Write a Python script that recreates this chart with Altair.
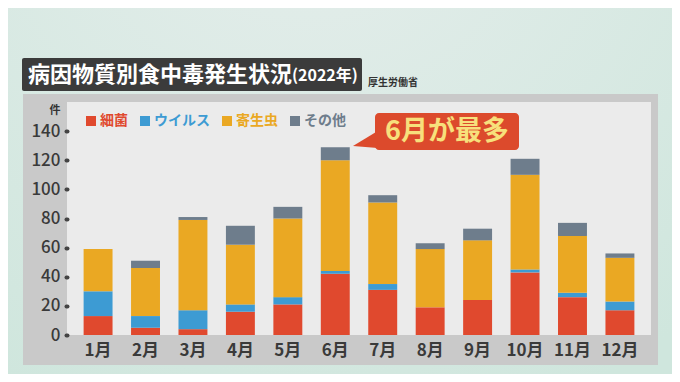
import altair as alt
import pandas as pd

months = ["1月", "2月", "3月", "4月", "5月", "6月", "7月", "8月", "9月", "10月", "11月", "12月"]
series = ["細菌", "ウイルス", "寄生虫", "その他"]
colors = ["#e0492e", "#3d9bd3", "#eaa823", "#6e7d8c"]
bacteria = [13, 5, 4, 16, 21, 42, 31, 19, 24, 43, 26, 17]
virus = [17, 8, 13, 5, 5, 2, 4, 0, 0, 2, 3, 6]
parasite = [29, 33, 62, 41, 54, 76, 56, 40, 41, 65, 39, 30]
other = [0, 5, 2, 13, 8, 9, 5, 4, 8, 11, 9, 3]
y_ticks = [0, 20, 40, 60, 80, 100, 120, 140]

FONT = "Noto Sans CJK JP"

rows = []
for si, (name, vals) in enumerate(zip(series, [bacteria, virus, parasite, other])):
    for m, v in zip(months, vals):
        rows.append({"month": m, "series": name, "value": v, "order": si})
df = pd.DataFrame(rows)

one = alt.Data(values=[{}])

bg = alt.Chart(one).mark_rect(
    fill=alt.RadialGradient(
        gradient="radial",
        x1=0.45, y1=0.0, r1=0.0, x2=0.45, y2=0.0, r2=0.9,
        stops=[alt.GradientStop(color="#e6eeec", offset=0),
               alt.GradientStop(color="#cfe6dd", offset=1)],
    )
).encode(x=alt.value(-59), x2=alt.value(605), y=alt.value(-94), y2=alt.value(272))

frame = alt.Chart(one).mark_rect(color="#c9c9c9").encode(
    x=alt.value(-44), x2=alt.value(591), y=alt.value(-8), y2=alt.value(263))
inner = alt.Chart(one).mark_rect(color="#ebebeb").encode(
    x=alt.value(0), x2=alt.value(584), y=alt.value(0), y2=alt.value(233))

title_box = alt.Chart(one).mark_rect(color="#3b3b3b", cornerRadius=2).encode(
    x=alt.value(-45), x2=alt.value(295), y=alt.value(-44), y2=alt.value(-11))
title1 = alt.Chart(one).mark_text(
    text="病因物質別食中毒発生状況", font=FONT, fontSize=22, fontWeight="bold",
    color="white", align="left", baseline="middle"
).encode(x=alt.value(-39), y=alt.value(-27))
title2 = alt.Chart(one).mark_text(
    text="(2022年)", font=FONT, fontSize=16, fontWeight="bold",
    color="white", align="left", baseline="middle"
).encode(x=alt.value(225), y=alt.value(-26))
source = alt.Chart(one).mark_text(
    text="厚生労働省", font=FONT, fontSize=10, fontWeight="bold",
    color="#333333", align="left", baseline="middle"
).encode(x=alt.value(301), y=alt.value(-19))
unit = alt.Chart(one).mark_text(
    text="件", font=FONT, fontSize=11, fontWeight="bold",
    color="#333333", align="center", baseline="middle"
).encode(x=alt.value(-12), y=alt.value(9))

bars = alt.Chart(df).mark_bar().encode(
    x=alt.X("month:N", sort=months, title=None,
            scale=alt.Scale(paddingInner=0.39, paddingOuter=0.35),
            axis=alt.Axis(labelAngle=0, labelFont=FONT, labelFontSize=17,
                          labelFontWeight="bold", labelColor="#3a3a3a",
                          ticks=False, domain=False, labelPadding=7, zindex=2)),
    y=alt.Y("sum(value):Q", title=None,
            scale=alt.Scale(domain=[0, 160], nice=False),
            axis=alt.Axis(values=y_ticks, grid=False, domain=False,
                          tickSize=1, tickWidth=4, tickCap="round", tickColor="#444444",
                          labelFont=FONT, labelFontSize=17, labelColor="#3a3a3a",
                          labelFontWeight=500, labelPadding=6, zindex=2)),
    color=alt.Color("series:N", sort=series,
                    scale=alt.Scale(domain=series, range=colors),
                    legend=alt.Legend(orient="none", legendX=17, legendY=12,
                                      direction="horizontal", title=None,
                                      symbolType="square", symbolSize=100,
                                      symbolStrokeWidth=0, symbolOpacity=1,
                                      labelFont=FONT, labelFontSize=14,
                                      labelFontWeight="bold",
                                      labelColor=alt.ExprRef("scale('color', datum.value)"),
                                      labelOffset=2, columnPadding=10, padding=0)),
    order=alt.Order("order:Q", sort="ascending"),
)

callout = alt.Chart(one).mark_rect(color="#dc4a2c", cornerRadius=4).encode(
    x=alt.value(308), x2=alt.value(452), y=alt.value(11), y2=alt.value(48))
tail = alt.Chart(one).mark_point(
    shape="M -0.96 0.54 L 1.1 -0.71 L 1.1 0.71 Z", size=576,
    filled=True, color="#dc4a2c", opacity=1, strokeWidth=0
).encode(x=alt.value(297.5), y=alt.value(37.5))
callout_text = alt.Chart(one).mark_text(
    text="6月が最多", font=FONT, fontSize=27, fontWeight="bold",
    color="#f7e07c", align="center", baseline="middle"
).encode(x=alt.value(380), y=alt.value(30))

chart = alt.layer(
    bg, frame, inner, title_box, title1, title2, source, unit, bars,
    callout, tail, callout_text
).properties(
    width=584, height=233,
    autosize=alt.AutoSizeParams(type="none"),
    padding={"left": 59, "top": 94, "right": 21, "bottom": 39},
    background="#d2e8e0",
).configure_view(strokeWidth=0)

chart.save("out.html", embed_options={"renderer": "svg", "actions": False})
